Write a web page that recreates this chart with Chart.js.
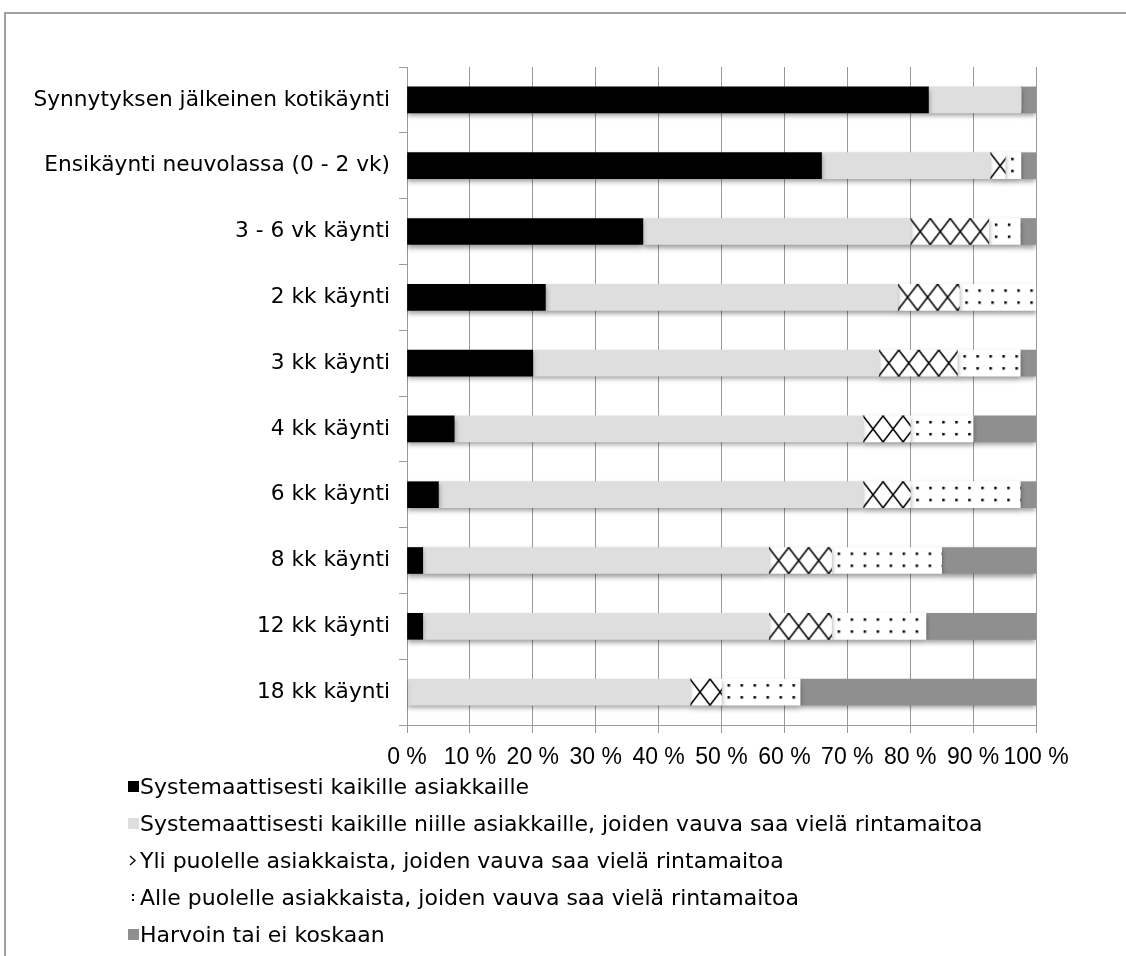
<!DOCTYPE html>
<html lang="fi">
<head>
<meta charset="UTF-8">
<title>Imetysohjaus neuvolakäynneillä</title>
<script src="https://cdn.jsdelivr.net/npm/chart.js@4"></script>
<style>
  html, body { margin: 0; padding: 0; background: #fff; overflow: hidden; }
  body {
    width: 1126px;
    height: 956px;
    position: relative;
    font-family: "DejaVu Sans", sans-serif;
  }
  .frame {
    position: absolute;
    left: 4px;
    top: 12px;
    width: 1200px;
    height: 1000px;
    border-left: 2px solid #a0a0a0;
    border-top: 2px solid #a0a0a0;
  }
  .chart-box {
    position: absolute;
    left: 0;
    top: 0;
    width: 1126px;
    height: 790px;
  }
  .legend {
    position: absolute;
    left: 128px;
    top: 768px;
    list-style: none;
    margin: 0;
    padding: 0;
  }
  .legend li {
    height: 37px;
    display: flex;
    align-items: center;
    font-size: 22px;
    color: #000;
    white-space: nowrap;
  }
  .legend canvas {
    width: 11px;
    height: 11px;
    margin-right: 1px;
  }
</style>
</head>
<body>
<div class="frame"></div>
<div class="chart-box"><canvas id="chart"></canvas></div>
<ul class="legend" id="legend"></ul>

<script>
// Neuvolakäynnit ja vastausten osuudet (%)
const visits = [
  "Synnytyksen jälkeinen kotikäynti",
  "Ensikäynti neuvolassa (0 - 2 vk)",
  "3 - 6 vk käynti",
  "2 kk käynti",
  "3 kk käynti",
  "4 kk käynti",
  "6 kk käynti",
  "8 kk käynti",
  "12 kk käynti",
  "18 kk käynti"
];

const seriesNames = [
  "Systemaattisesti kaikille asiakkaille",
  "Systemaattisesti kaikille niille asiakkaille, joiden vauva saa vielä rintamaitoa",
  "Yli puolelle asiakkaista, joiden vauva saa vielä rintamaitoa",
  "Alle puolelle asiakkaista, joiden vauva saa vielä rintamaitoa",
  "Harvoin tai ei koskaan"
];

const systemAll       = [82.9, 65.9, 37.5, 22.0, 20.0,  7.5,  5.0,  2.5,  2.5,  0.0];
const systemBreastfed = [14.7, 26.8, 42.5, 56.0, 55.0, 65.0, 67.5, 55.0, 55.0, 45.0];
const overHalf        = [ 0.0,  2.4, 12.5,  9.8, 12.5,  7.5,  7.5, 10.0, 10.0,  5.0];
const underHalf       = [ 0.0,  2.5,  5.0, 12.2, 10.0, 10.0, 17.5, 17.5, 15.0, 12.5];
const rarely          = [ 2.4,  2.4,  2.5,  0.0,  2.5, 10.0,  2.5, 15.0, 17.5, 37.5];

const xTicks = [0, 10, 20, 30, 40, 50, 60, 70, 80, 90, 100];

const BAR = 26;

// pattern tiles
function crossTile() {
  const c = document.createElement("canvas");
  c.width = 20; c.height = BAR;
  const g = c.getContext("2d");
  g.fillStyle = "#fff";
  g.fillRect(0, 0, c.width, c.height);
  g.strokeStyle = "#000";
  g.lineWidth = 1.6;
  g.beginPath();
  g.moveTo(0, 0); g.lineTo(c.width, c.height);
  g.moveTo(c.width, 0); g.lineTo(0, c.height);
  g.stroke();
  return c;
}

function dotTile() {
  const c = document.createElement("canvas");
  c.width = 13; c.height = 12;
  const g = c.getContext("2d");
  g.fillStyle = "#fff";
  g.fillRect(0, 0, c.width, c.height);
  g.fillStyle = "#000";
  g.fillRect(6, 5, 2.5, 2.5);
  return c;
}

const tiles = { cross: crossTile(), dots: dotTile() };

// anchors the pattern to the start of each bar segment
function patternFill(tile, dsIndex) {
  return (c) => {
    const chart = c.chart;
    const xs = chart.scales.x, ys = chart.scales.y;
    if (!xs || !ys || c.dataIndex === undefined) return "#fff";
    let start = 0;
    for (let i = 0; i < dsIndex; i++) start += chart.data.datasets[i].data[c.dataIndex];
    const x0 = xs.getPixelForValue(start);
    const y0 = ys.getPixelForValue(c.dataIndex) - BAR / 2;
    const p = chart.ctx.createPattern(tile, "repeat");
    p.setTransform(new DOMMatrix().translate(x0, y0));
    return p;
  };
}

const barShadow = {
  id: "barShadow",
  beforeDatasetsDraw(chart) {
    const ctx = chart.ctx;
    ctx.save();
    ctx.shadowColor = "rgba(0,0,0,0.4)";
    ctx.shadowBlur = 5;
    ctx.shadowOffsetX = 0;
    ctx.shadowOffsetY = 3;
  },
  afterDatasetsDraw(chart) {
    chart.ctx.restore();
  }
};

Chart.defaults.font.family = '"DejaVu Sans", sans-serif';
Chart.defaults.font.size = 21.7;
Chart.defaults.color = "#000";

const values = [systemAll, systemBreastfed, overHalf, underHalf, rarely];
const fills = [
  "#000000",
  "#dedede",
  patternFill(tiles.cross, 2),
  patternFill(tiles.dots, 3),
  "#8f8f8f"
];

new Chart(document.getElementById("chart"), {
  type: "bar",
  data: {
    labels: visits,
    datasets: values.map((d, i) => ({
      label: seriesNames[i],
      data: d,
      backgroundColor: fills[i],
      borderWidth: 0,
      barThickness: BAR
    }))
  },
  options: {
    indexAxis: "y",
    responsive: true,
    maintainAspectRatio: false,
    animation: false,
    layout: { padding: { top: 67, right: 90, bottom: 20, left: 0 } },
    plugins: {
      legend: { display: false },
      tooltip: { enabled: false }
    },
    scales: {
      x: {
        stacked: true,
        min: 0,
        max: 100,
        afterBuildTicks: (s) => { s.ticks = xTicks.map(v => ({ value: v })); },
        afterFit: (s) => { s.height = 45; },
        ticks: {
          callback: (v) => v + " %",
          autoSkip: false,
          padding: 11,
          maxRotation: 0,
          font: { family: '"Liberation Sans Narrow", "Liberation Sans", sans-serif', size: 23 }
        },
        grid: { color: "#9a9a9a", tickLength: 8, lineWidth: 1 },
        border: { color: "#9a9a9a" }
      },
      y: {
        stacked: true,
        afterFit: (s) => { s.width = 407; },
        ticks: { padding: 9, autoSkip: false },
        grid: {
          drawOnChartArea: false,
          tickLength: 8,
          color: "#9a9a9a",
          offset: true
        },
        border: { color: "#9a9a9a" }
      }
    }
  },
  plugins: [barShadow]
});

// legend list with small swatches
function swatch(i) {
  const c = document.createElement("canvas");
  c.width = 11; c.height = 11;
  const g = c.getContext("2d");
  if (i === 2) {
    g.strokeStyle = "#000";
    g.lineWidth = 1.3;
    g.beginPath();
    g.moveTo(2, 1); g.lineTo(7, 5.5); g.lineTo(2, 10);
    g.stroke();
  } else if (i === 3) {
    g.fillStyle = "#000";
    g.fillRect(4, 2, 2, 2);
    g.fillRect(4, 7, 2, 2);
  } else {
    g.fillStyle = ["#000000", "#dedede", null, null, "#8f8f8f"][i];
    g.fillRect(0, 0, 11, 11);
  }
  return c;
}

const legend = document.getElementById("legend");
seriesNames.forEach((name, i) => {
  const li = document.createElement("li");
  li.appendChild(swatch(i));
  li.appendChild(document.createTextNode(name));
  legend.appendChild(li);
});
</script>
</body>
</html>
